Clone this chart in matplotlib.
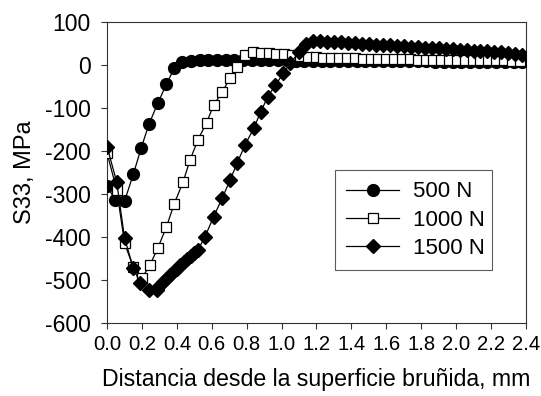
import matplotlib
matplotlib.use("Agg")
import matplotlib.pyplot as plt
from matplotlib import font_manager

plt.rcParams['font.family'] = ['Liberation Sans', 'DejaVu Sans']
plt.rcParams['axes.unicode_minus'] = False

# 500 N (circles)
x500 = [0.0, 0.046, 0.10, 0.15, 0.195, 0.24, 0.29, 0.34, 0.385, 0.43, 0.48, 0.53,
        0.58, 0.63, 0.68, 0.73, 0.78, 0.83, 0.88, 0.93, 0.98, 1.03, 1.08, 1.13,
        1.18, 1.23, 1.28, 1.33, 1.38, 1.43, 1.48, 1.53, 1.58, 1.63, 1.68, 1.73,
        1.78, 1.83, 1.88, 1.93, 1.98, 2.03, 2.08, 2.13, 2.18, 2.23, 2.28, 2.33, 2.38]
y500 = [-280, -314, -316, -254, -193, -137, -89, -44, -7, 7, 10, 11,
        12, 12, 12, 12, 12, 12, 11, 11, 11, 11, 10, 10,
        10, 10, 10, 10, 10, 10, 9, 9, 9, 9, 9, 9,
        9, 9, 8, 8, 8, 8, 8, 8, 8, 8, 8, 8, 8]

# 1000 N (open squares)
x1000 = [0.0, 0.055, 0.10, 0.15, 0.20, 0.245, 0.29, 0.34, 0.385, 0.435, 0.475, 0.52,
         0.57, 0.61, 0.66, 0.705, 0.745, 0.79, 0.835, 0.88, 0.925, 0.97, 1.015, 1.06,
         1.105, 1.15, 1.195, 1.24, 1.285, 1.33, 1.375, 1.42, 1.465, 1.51, 1.555, 1.60,
         1.645, 1.69, 1.735, 1.78, 1.825, 1.87, 1.915, 1.96, 2.005, 2.05, 2.095, 2.14,
         2.185, 2.23, 2.275, 2.32, 2.365]
y1000 = [-205, -290, -414, -470, -495, -465, -426, -376, -322, -272, -221, -174,
         -134, -93, -62, -30, -4, 23, 30, 29, 28, 27, 26, 24,
         22, 20, 18, 17, 17, 16, 16, 16, 15, 15, 15, 14, 14,
         14, 14, 13, 13, 13, 13, 12, 12, 12, 12, 11,
         11, 11, 11, 10, 10]

# 1500 N (filled diamonds)
x1500 = [0.0, 0.055, 0.10, 0.15, 0.19, 0.24, 0.285, 0.30, 0.32, 0.34, 0.36, 0.38,
         0.40, 0.42, 0.44, 0.46, 0.48, 0.50, 0.52, 0.56, 0.61, 0.66, 0.705, 0.745,
         0.79, 0.84, 0.88, 0.92, 0.965, 1.01, 1.05, 1.10, 1.14, 1.18, 1.22, 1.26,
         1.30, 1.34, 1.38, 1.42, 1.46, 1.50, 1.54, 1.58, 1.62, 1.66, 1.70, 1.74,
         1.78, 1.82, 1.86, 1.90, 1.94, 1.98, 2.02, 2.06, 2.10, 2.14, 2.18, 2.22,
         2.26, 2.30, 2.34, 2.38]
y1500 = [-190, -272, -402, -472, -507, -523, -523, -513, -505, -497, -489, -481,
         -473, -465, -458, -451, -444, -437, -430, -400, -353, -309, -267, -228,
         -186, -147, -109, -74, -46, -19, 5, 30, 50, 57, 56, 55,
         54, 53, 52, 51, 50, 49, 48, 47, 46, 45, 44, 43,
         42, 41, 40, 39, 38, 37, 36, 35, 34, 33, 32, 31,
         30, 28, 26, 24]

xticks = [0.0, 0.2, 0.4, 0.6, 0.8, 1.0, 1.2, 1.4, 1.6, 1.8, 2.0, 2.2, 2.4]
xticklabels = ["0.0", "0.2", "0.4", "0.6", "0.8", "1.0", "1.2", "1.4", "1.6",
               "1.8", "2.0", "2.2", "2.4"]
yticks = [-600, -500, -400, -300, -200, -100, 0, 100]

names = {f.name for f in font_manager.fontManager.ttflist}
if 'Liberation Sans Narrow' in names:
    xt_family, xt_size = ['Liberation Sans Narrow', 'DejaVu Sans'], 16.3
else:
    xt_family, xt_size = ['Liberation Sans', 'DejaVu Sans'], 14.6

fig = plt.figure(figsize=(5.41, 3.96), dpi=100)
ax = fig.add_axes([0.198, 0.184, 0.774, 0.760])

ax.plot(x500, y500, color='black', lw=0.9, marker='o', ms=8.5,
        mfc='black', mec='black', label='500 N', zorder=3)
ax.plot(x1000, y1000, color='black', lw=0.9, marker='s', ms=7.2,
        mfc='white', mec='black', mew=0.9, label='1000 N', zorder=4)
ax.plot(x1500, y1500, color='black', lw=0.9, marker='D', ms=7.6,
        mfc='black', mec='black', label='1500 N', zorder=5)

ax.set_xlim(0, 2.4)
ax.set_ylim(-600, 100)
ax.set_xticks(xticks)
ax.set_xticklabels(xticklabels, family=xt_family, fontsize=xt_size)
ax.set_yticks(yticks)
ax.tick_params(direction='out', length=4, width=0.8, color='#333333')
ax.tick_params(axis='y', labelsize=16.5, pad=8)
ax.tick_params(axis='x', pad=4.5)
for s in ax.spines.values():
    s.set_linewidth(0.8)
    s.set_color('#333333')

ax.set_xlabel('Distancia desde la superficie bruñida, mm', fontsize=16.7, labelpad=10)
ax.set_ylabel('S33, MPa', fontsize=17, labelpad=6)

leg = ax.legend(loc='lower left', bbox_to_anchor=(0.544, 0.176, 0.375, 0.332),
                mode='expand', fontsize=16, frameon=True, fancybox=False,
                edgecolor='#333333', handlelength=2.4, labelspacing=0.33,
                borderpad=0.5, handletextpad=0.6, borderaxespad=0)
leg.get_frame().set_linewidth(0.8)

fig.savefig('out.png', dpi=100)
